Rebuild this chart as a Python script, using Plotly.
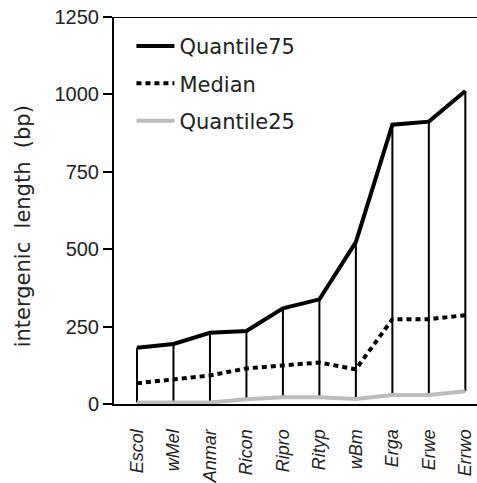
import plotly.graph_objects as go

categories = ["Escol", "wMel", "Anmar", "Ricon", "Ripro", "Rityp", "wBm", "Erga", "Erwe", "Errwo"]
quantile75 = [182, 194, 230, 236, 309, 338, 523, 902, 912, 1011]
median = [67, 80, 92, 115, 124, 134, 112, 274, 274, 287]
quantile25 = [5, 5, 5, 15, 22, 22, 16, 29, 29, 41]
y_ticks = [0, 250, 500, 750, 1000, 1250]
y_title = "intergenic\u00a0\u00a0length\u00a0\u00a0(bp)"

xs = list(range(len(categories)))
WIDE = "DejaVu Sans"
HELV = "Liberation Sans"
TXT = "#222222"

fig = go.Figure()

# vertical range lines
vx, vy = [], []
for i in xs:
    vx += [i, i, None]
    vy += [quantile25[i], quantile75[i], None]
fig.add_trace(go.Scatter(x=vx, y=vy, mode="lines", line=dict(color="black", width=2),
                         showlegend=False, hoverinfo="skip"))

fig.add_trace(go.Scatter(x=xs, y=quantile75, mode="lines", name="Quantile75", legendgroup="a",
                         line=dict(color="black", width=4)))
fig.add_trace(go.Scatter(x=xs, y=median, mode="lines", name="Median", legendgroup="b",
                         line=dict(color="black", width=4, dash="5px,4px")))
fig.add_trace(go.Scatter(x=xs, y=quantile25, mode="lines", name="Quantile25", legendgroup="c",
                         line=dict(color="#bdbdbd", width=4)))

fig.update_layout(
    width=477, height=483,
    margin=dict(l=114, r=0, t=17, b=74),
    paper_bgcolor="white", plot_bgcolor="white",
    font=dict(family=HELV, color=TXT),
    legend=dict(x=0.048, y=0.977, xanchor="left", yanchor="top",
                traceorder="grouped", font=dict(size=21, color=TXT, family=WIDE),
                bgcolor="rgba(0,0,0,0)", itemwidth=38, tracegroupgap=7),
    xaxis=dict(range=[-0.63, 9.32], tickvals=xs, ticktext=categories,
               tickangle=-90, tickfont=dict(size=18, style="italic", color=TXT, family=HELV),
               showline=True, linecolor="black", linewidth=2, mirror=False,
               ticks="", showgrid=False, zeroline=False, ticklabelstandoff=16),
    yaxis=dict(range=[0, 1250], tickvals=y_ticks, showline=True, linecolor="black",
               linewidth=2, ticks="outside", ticklen=9, tickwidth=2, tickcolor="black",
               tickfont=dict(size=20, color=TXT, family=HELV), showgrid=False, zeroline=False,
               automargin=False),
)
# y-axis title as annotation (slightly below the plot centre, as in the reference)
fig.add_annotation(text=y_title, textangle=-90, xref="paper", yref="paper",
                   x=0, y=(409 - 229) / 392, xanchor="center", yanchor="middle",
                   xshift=-91, showarrow=False,
                   font=dict(size=21, color=TXT, family=WIDE))
# top border line
fig.add_shape(type="line", xref="paper", yref="y", x0=0, x1=1, y0=1250, y1=1250,
              line=dict(color="black", width=2))

fig.write_html("out.html", config={"displayModeBar": False},
               post_script="document.body.style.margin='0';")
